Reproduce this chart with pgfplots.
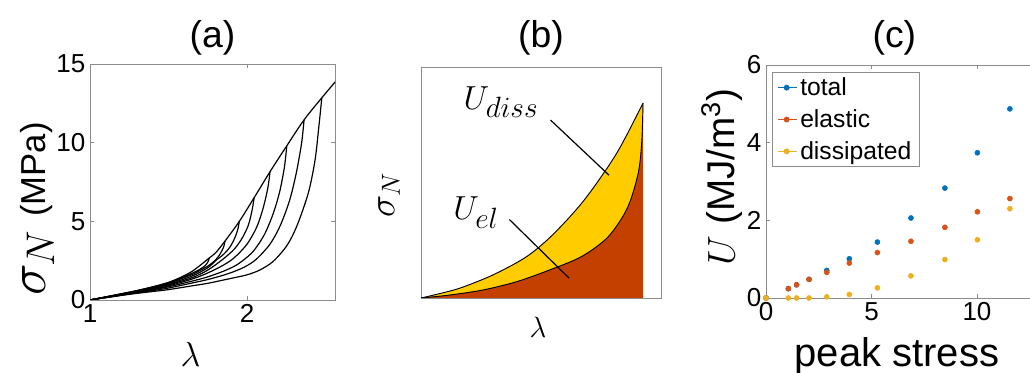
\RequirePackage{fix-cm}
\documentclass[border=0pt]{standalone}
\usepackage{fontspec}
\setmainfont{Liberation Sans}
\usepackage{pgfplots}
\pgfplotsset{compat=1.18}

\definecolor{mblue}{rgb}{0,0.447,0.741}
\definecolor{mred}{rgb}{0.85,0.325,0.098}
\definecolor{myel}{rgb}{0.929,0.694,0.125}
\definecolor{axgray}{RGB}{140,140,140}
\definecolor{fillyel}{RGB}{255,204,0}
\definecolor{fillred}{RGB}{196,64,0}

\pgfplotsset{
  mstyle/.style={
    scale only axis,
    anchor=south west,
    clip mode=individual,
    axis line style={axgray, line width=0.6pt},
    tick style={axgray, line width=0.6pt},
    major tick length=3pt,
    tick align=inside,
    /pgf/number format/assume math mode=true,
    tick label style={font=\fontsize{19.5}{22}\selectfont, black},
    title style={font=\fontsize{28}{32}\selectfont, inner sep=0pt, anchor=center, at={(0.5,1)}},
    xlabel style={anchor=center},
  }
}

\begin{document}
\begin{tikzpicture}
\useasboundingbox (0,0) rectangle (772.5pt,279.75pt);
\clip (0,0) rectangle (772.5pt,279.75pt);

% ---------------- (a)
\begin{axis}[mstyle,
  at={(67.5pt,54.75pt)}, width=183.75pt, height=177pt,
  xmin=1, xmax=2.56, ymin=0, ymax=15,
  xtick={1,2}, ytick={0,5,10,15},
  title={(a)}, title style={yshift=13.5pt},
  xlabel={\fontsize{26}{28}\selectfont$\lambda$},
  xlabel style={at={(axis description cs:0.41,-0.229)}},
]
\addplot[black, line width=0.9pt, smooth] coordinates {(1,0) (1.1,0.2) (1.2,0.4) (1.3,0.6) (1.4,0.84) (1.5,1.12) (1.58,1.45) (1.65,1.82) (1.72,2.35) (1.76,2.68) (1.8,3.0) (1.86,3.75) (1.951,5.0) (2.045,6.5) (2.146,8.15) (2.253,9.8) (2.363,11.45) (2.476,12.85) (2.556,13.8) (2.6,14.3)};
\addplot[black, line width=0.9pt, smooth] coordinates {(1.76,2.68) (1.752,2.45) (1.735,2.2) (1.7,1.95) (1.65,1.7) (1.6,1.48) (1.5,1.1) (1.4,0.83) (1.25,0.49) (1,0)};
\addplot[black, line width=0.9pt, smooth] coordinates {(1.86,3.75) (1.85,3.35) (1.83,2.95) (1.8,2.55) (1.75,2.15) (1.7,1.88) (1.65,1.62) (1.5,1.06) (1.4,0.8) (1.25,0.47) (1,0)};
\addplot[black, line width=0.9pt, smooth] coordinates {(1.951,5.0) (1.94,4.45) (1.92,3.9) (1.89,3.35) (1.85,2.9) (1.8,2.5) (1.75,2.05) (1.65,1.52) (1.5,1.01) (1.4,0.77) (1.25,0.46) (1,0)};
\addplot[black, line width=0.9pt, smooth] coordinates {(2.045,6.5) (2.032,5.7) (2.008,4.75) (1.97,3.95) (1.92,3.25) (1.85,2.62) (1.75,1.9) (1.65,1.42) (1.5,0.96) (1.4,0.73) (1.25,0.44) (1,0)};
\addplot[black, line width=0.9pt, smooth] coordinates {(2.146,8.15) (2.132,7.1) (2.10,5.75) (2.06,4.6) (2.0,3.55) (1.92,2.7) (1.85,2.22) (1.75,1.72) (1.65,1.33) (1.5,0.9) (1.4,0.69) (1.25,0.42) (1,0)};
\addplot[black, line width=0.9pt, smooth] coordinates {(2.253,9.8) (2.238,8.45) (2.207,6.85) (2.165,5.45) (2.11,4.15) (2.04,3.1) (1.97,2.48) (1.92,2.15) (1.85,1.83) (1.75,1.47) (1.65,1.2) (1.5,0.84) (1.4,0.65) (1.25,0.4) (1,0)};
\addplot[black, line width=0.9pt, smooth] coordinates {(2.363,11.45) (2.347,9.95) (2.313,8.05) (2.27,6.3) (2.21,4.7) (2.146,3.55) (2.06,2.6) (1.99,2.13) (1.92,1.82) (1.85,1.58) (1.75,1.3) (1.65,1.08) (1.5,0.76) (1.4,0.6) (1.25,0.38) (1,0)};
\addplot[black, line width=0.9pt, smooth] coordinates {(2.476,12.85) (2.458,11.1) (2.433,8.9) (2.39,6.8) (2.317,4.7) (2.253,3.45) (2.166,2.45) (2.08,1.9) (2.0,1.6) (1.92,1.42) (1.85,1.27) (1.75,1.06) (1.65,0.9) (1.5,0.66) (1.4,0.54) (1.25,0.36) (1,0)};
\node[rotate=90, anchor=center, inner sep=0pt] at (rel axis cs:-0.216,0.385) {\fontsize{26}{28}\selectfont{\fontsize{40}{40}\selectfont$\sigma_{\mbox{\fontsize{30}{30}\selectfont$N$}}$}\hspace{10pt}(MPa)};
\end{axis}

% ---------------- (b)
\begin{axis}[mstyle,
  at={(315.75pt,56.25pt)}, width=180pt, height=173.25pt,
  xmin=0, xmax=1, ymin=0, ymax=1,
  xtick=\empty, ytick=\empty,
  title={(b)}, title style={yshift=15.75pt},
  xlabel={\fontsize{22}{24}\selectfont$\lambda$},
  xlabel style={at={(axis description cs:0.4875,-0.1255)}},
]
\addplot[fill=fillyel, draw=none, smooth] coordinates {(0,0) (0.05,0.012) (0.16,0.042) (0.3,0.1) (0.44,0.179) (0.55,0.275) (0.68,0.424) (0.815,0.626) (0.925,0.844)} \closedcycle;
\addplot[fill=fillred, draw=none, smooth] coordinates {(0,0) (0.121,0.013) (0.26,0.035) (0.4,0.071) (0.5375,0.122) (0.67,0.18) (0.78,0.265) (0.86,0.39) (0.905,0.54) (0.92,0.68) (0.925,0.844)} \closedcycle;
\addplot[black, line width=0.7pt, smooth] coordinates {(0,0) (0.05,0.012) (0.16,0.042) (0.3,0.1) (0.44,0.179) (0.55,0.275) (0.68,0.424) (0.815,0.626) (0.925,0.844)};
\addplot[black, line width=0.7pt, smooth] coordinates {(0,0) (0.121,0.013) (0.26,0.035) (0.4,0.071) (0.5375,0.122) (0.67,0.18) (0.78,0.265) (0.86,0.39) (0.905,0.54) (0.92,0.68) (0.925,0.844)};
\draw[black, line width=0.9pt] (axis cs:0.54,0.77) -- (axis cs:0.783,0.532);
\draw[black, line width=0.9pt] (axis cs:0.368,0.34) -- (axis cs:0.617,0.086);
\node[inner sep=0pt] at (axis cs:0.333,0.848) {\fontsize{25}{28}\selectfont$U_{\mbox{\fontsize{22}{24}\selectfont$diss$}}$};
\node[inner sep=0pt] at (axis cs:0.229,0.368) {\fontsize{25}{28}\selectfont$U_{\mbox{\fontsize{22}{24}\selectfont$el$}}$};
\node[rotate=90, anchor=center, inner sep=0pt] at (rel axis cs:-0.133,0.445) {\fontsize{28}{30}\selectfont$\sigma_N$};
\end{axis}

% ---------------- (c)
\begin{axis}[mstyle,
  at={(574.5pt,56.25pt)}, width=205.7pt, height=174.75pt,
  xmin=0, xmax=13, ymin=0, ymax=6,
  xtick={0,5,10}, ytick={0,2,4,6},
  title={(c)}, title style={at={(0.468,1)}, yshift=14.25pt},
  xlabel={\fontsize{30}{32}\selectfont peak stress},
  xlabel style={anchor=base, at={(axis description cs:0.4776,-0.293)}},
  legend cell align=left,
  legend image code/.code={\path (0pt,0pt) -- (14.3pt,0pt); \draw[#1] plot coordinates {(6.4pt,0pt)};},
  legend style={at={(0.0219,0.97)}, anchor=north west, draw=axgray, line width=0.6pt,
    font=\fontsize{18.5}{22}\selectfont, inner xsep=4pt, inner ysep=2pt, row sep=5pt,
    nodes={inner sep=2pt}},
]
\addplot[only marks, mark=*, mark size=1.9pt, color=mblue] coordinates {(0,0) (1.06,0.24) (1.45,0.34) (2.04,0.48) (2.88,0.71) (3.95,1.01) (5.28,1.44) (6.87,2.06) (8.48,2.83) (10.02,3.74) (11.56,4.87)};
\addplot[only marks, mark=*, mark size=1.9pt, color=mred] coordinates {(0,0) (1.06,0.24) (1.45,0.34) (2.04,0.48) (2.88,0.66) (3.95,0.90) (5.28,1.17) (6.87,1.46) (8.48,1.82) (10.02,2.22) (11.56,2.56)};
\addplot[only marks, mark=*, mark size=1.9pt, color=myel] coordinates {(0,0) (1.06,0) (1.45,0) (2.04,0) (2.88,0.03) (3.95,0.09) (5.28,0.26) (6.87,0.57) (8.48,0.99) (10.02,1.50) (11.56,2.30)};
\legend{total, elastic, dissipated}
\node[rotate=90, anchor=center, inner sep=0pt] at (rel axis cs:-0.16,0.52) {\fontsize{29}{31}\selectfont$U$ (MJ/m\textsuperscript{3})};
\end{axis}
\end{tikzpicture}
\end{document}
